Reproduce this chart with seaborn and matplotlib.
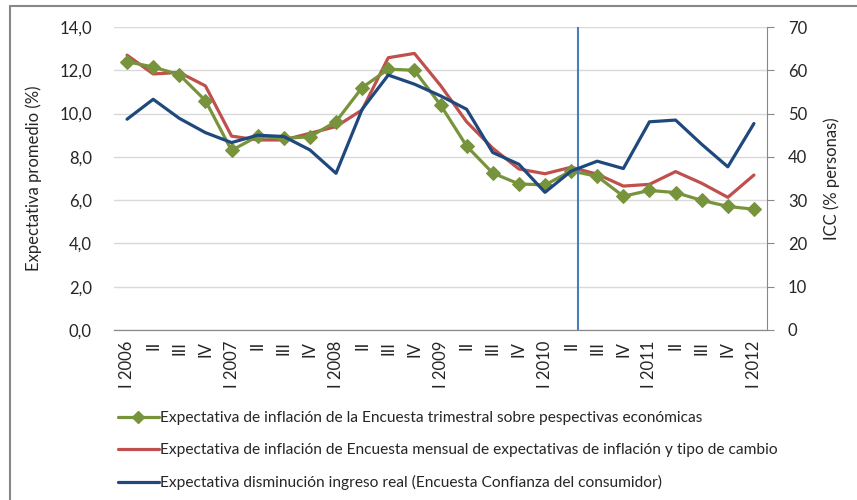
import numpy as np
import pandas as pd
import seaborn as sns
import matplotlib.pyplot as plt
from matplotlib.lines import Line2D

# Datos (trimestres I 2006 - I 2012)
trimestres = ['I 2006', 'II', 'III', 'IV', 'I 2007', 'II', 'III', 'IV',
              'I 2008', 'II', 'III', 'IV', 'I 2009', 'II', 'III', 'IV',
              'I 2010', 'II', 'III', 'IV', 'I 2011', 'II', 'III', 'IV', 'I 2012']

# Expectativa de inflación - Encuesta trimestral (%)
trimestral = [12.4, 12.15, 11.8, 10.6, 8.3, 8.95, 8.85, 8.93,
              9.63, 11.2, 12.05, 12.0, 10.4, 8.5, 7.25, 6.75,
              6.7, 7.35, 7.1, 6.18, 6.45, 6.35, 5.99, 5.71, 5.58]

# Expectativa de inflación - Encuesta mensual (%)
mensual = [12.7, 11.83, 11.9, 11.28, 8.96, 8.78, 8.78, 9.09,
           9.4, 10.17, 12.58, 12.78, 11.3, 9.62, 8.4, 7.44,
           7.22, 7.52, 7.2, 6.65, 6.73, 7.32, 6.78, 6.13, 7.16]

# Expectativa disminución ingreso real - ICC (% personas)
icc = [48.7, 53.3, 48.9, 45.6, 43.3, 45.0, 44.7, 41.6,
       36.2, 51.0, 58.9, 56.8, 54.1, 51.0, 41.0, 38.3,
       31.8, 36.7, 39.0, 37.3, 48.1, 48.5, 42.9, 37.7, 47.7]

# separador vertical (entre II 2010 y III 2010)
separador = 17.25

etiquetas = [
    'Expectativa de inflación de la Encuesta trimestral sobre pespectivas económicas',
    'Expectativa de inflación de Encuesta mensual de expectativas de inflación y tipo de cambio',
    'Expectativa disminución ingreso real (Encuesta Confianza del consumidor)',
]

verde = '#77933C'
rojo = '#C0504D'
azul = '#1F497D'

sns.set_style('white')
plt.rcParams['font.family'] = ['Lato', 'DejaVu Sans']

df = pd.DataFrame({'pos': np.arange(len(trimestres)), 'trimestral': trimestral,
                   'mensual': mensual, 'icc': icc})

fig = plt.figure(figsize=(8.57, 5.0), dpi=100)
ax = fig.add_axes([114 / 857, 170 / 500, (767 - 114) / 857, (330 - 27) / 500])
ax2 = ax.twinx()

sns.lineplot(data=df, x='pos', y='trimestral', ax=ax, color=verde, lw=2.3,
             marker='D', markersize=7.5, markeredgecolor=verde, zorder=4)
sns.lineplot(data=df, x='pos', y='mensual', ax=ax, color=rojo, lw=2.3, zorder=3)
sns.lineplot(data=df, x='pos', y='icc', ax=ax2, color=azul, lw=2.3, zorder=3)
ax2.axvline(separador, color='#4A7EBB', lw=1.5)

ax.set_ylim(0, 14)
ax.set_yticks(np.arange(0, 14.1, 2))
ax.set_yticklabels([f'{v:.1f}'.replace('.', ',') for v in np.arange(0, 14.1, 2)])
ax2.set_ylim(0, 70)
ax2.set_yticks(np.arange(0, 71, 10))
ax.set_xlim(-0.5, len(trimestres) - 0.5)
ax.set_xticks(df['pos'])
ax.set_xticklabels(trimestres, rotation=90, fontsize=12)

ax.grid(axis='y', color='#D9D9D9', lw=1)
ax.set_axisbelow(True)
ax.tick_params(axis='y', length=0, labelsize=12, pad=16)
ax.tick_params(axis='x', length=0, pad=8)
ax2.tick_params(axis='y', length=5, color='#888888', labelsize=12, pad=10)

for a in (ax, ax2):
    a.spines['top'].set_visible(False)
    a.spines['left'].set_visible(False)
    a.spines['right'].set_visible(False)
    a.spines['bottom'].set_color('#888888')
ax2.spines['right'].set_visible(True)
ax2.spines['right'].set_color('#888888')

ax.set_xlabel('')
ax.set_ylabel('Expectativa promedio (%)', fontsize=12, labelpad=12)
ax2.set_ylabel('ICC (% personas)', fontsize=12, labelpad=12)

handles = [Line2D([], [], color=verde, lw=2.3, marker='D', markersize=6),
           Line2D([], [], color=rojo, lw=2.3),
           Line2D([], [], color=azul, lw=2.3)]
fig.legend(handles, etiquetas, loc='upper left', bbox_to_anchor=(112 / 857, 95 / 500),
           frameon=False, fontsize=11.2, handlelength=2.6, handletextpad=0.1,
           labelspacing=1.15, borderaxespad=0)

# marco del gráfico
fig.add_artist(Line2D([10 / 857, 10 / 857], [0, 494 / 500], color='#888888', lw=1.5))
fig.add_artist(Line2D([10 / 857, 1], [494 / 500, 494 / 500], color='#888888', lw=1.5))

fig.savefig('out.png', dpi=100)
